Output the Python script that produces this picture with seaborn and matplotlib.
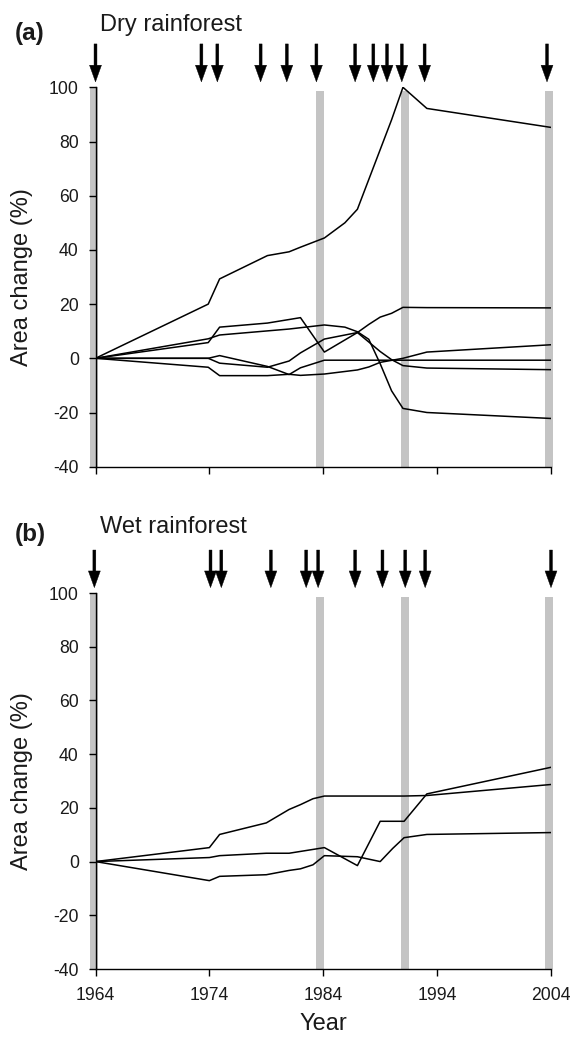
import matplotlib
matplotlib.use("Agg")
import matplotlib.pyplot as plt
import seaborn as sns
import pandas as pd

# ---------------- data ----------------
# (a) Dry rainforest: six patches, area change (%) vs year
dry_1_years = [1964, 1973.9, 1974.9, 1979.1, 1981.0, 1982.0, 1984.1, 1985.9, 1987.0, 1988.0, 1989.0, 1990.0, 1991.0, 1993.1, 2004.0]
dry_1_change = [0, 20, 29.3, 37.9, 39.3, 41.0, 44.4, 50, 55, 66, 77, 88, 100, 92.2, 85.2]
dry_2_years = [1964, 1973.9, 1974.9, 1979.1, 1982.0, 1984.1, 1987.0, 1988.0, 1989.0, 1990.0, 1991.0, 1993.1, 2004.0]
dry_2_change = [0, 5.8, 11.5, 13.0, 15.0, 2.3, 9.5, 12.5, 15.2, 16.6, 18.8, 18.7, 18.6]
dry_3_years = [1964, 1973.9, 1974.9, 1981.0, 1984.1, 1985.9, 1987.0, 1988.0, 1989.0, 1990.0, 1991.0, 1993.1, 2004.0]
dry_3_change = [0, 7.2, 8.6, 10.8, 12.3, 11.5, 9.8, 7.0, -2.0, -12.0, -18.5, -20.0, -22.2]
dry_4_years = [1964, 1973.9, 1974.9, 1979.1, 1981.0, 1982.0, 1984.1, 1987.0, 1988.0, 1989.0, 1990.0, 1991.0, 1993.1, 2004.0]
dry_4_change = [0, 0, -1.8, -3.3, -1.0, 2.0, 7.1, 9.5, 6.0, 2.5, -0.5, -2.7, -3.6, -4.2]
dry_5_years = [1964, 1973.9, 1974.9, 1979.1, 1981.0, 1982.0, 1984.1, 1991.0, 2004.0]
dry_5_change = [0, 0, 1.0, -3.0, -6.0, -3.5, -0.7, -0.7, -0.7]
dry_6_years = [1964, 1973.9, 1974.9, 1979.1, 1981.0, 1982.0, 1984.1, 1987.0, 1988.0, 1989.0, 1991.0, 1993.1, 2004.0]
dry_6_change = [0, -3.3, -6.4, -6.4, -5.9, -6.3, -5.8, -4.3, -3.2, -1.5, 0, 2.3, 5.0]

# (b) Wet rainforest: three patches
wet_1_years = [1964, 1974.0, 1974.9, 1979.0, 1981.0, 1982.0, 1983.1, 1984.1, 1991.1, 1993.1, 2004.0]
wet_1_change = [0, 5.2, 10.1, 14.4, 19.4, 21.2, 23.4, 24.4, 24.4, 24.6, 28.7]
wet_2_years = [1964, 1974.0, 1974.9, 1979.0, 1981.0, 1984.1, 1987.0, 1989.0, 1991.1, 1993.1, 2004.0]
wet_2_change = [0, 1.5, 2.2, 3.1, 3.1, 5.2, -1.5, 15.0, 15.0, 25.2, 35.1]
wet_3_years = [1964, 1974.0, 1974.9, 1979.0, 1981.0, 1982.0, 1983.1, 1984.1, 1987.0, 1989.0, 1990.1, 1991.1, 1993.1, 2004.0]
wet_3_change = [0, -7.1, -5.5, -4.9, -3.3, -2.7, -1.2, 2.2, 1.8, 0, 4.9, 8.9, 10.1, 10.8]

# photo years (arrows) and grey reference bars
dry_photo_years = [1964.0, 1973.3, 1974.7, 1978.5, 1980.8, 1983.4, 1986.8, 1988.4, 1989.6, 1990.9, 1992.9, 2003.65]
wet_photo_years = [1963.9, 1974.1, 1975.05, 1979.4, 1982.5, 1983.55, 1986.8, 1989.2, 1991.2, 1992.95, 2004.0]
bar_years = [1963.85, 1983.7, 1991.15, 2003.85]

x_ticks = [1964, 1974, 1984, 1994, 2004]
y_ticks = [-40, -20, 0, 20, 40, 60, 80, 100]

panel_letters = ["(a)", "(b)"]
panel_titles = ["Dry rainforest", "Wet rainforest"]


def long_df(series):
    rows = []
    for name, (yrs, vals) in series.items():
        for y, v in zip(yrs, vals):
            rows.append({"series": name, "year": y, "change": v})
    return pd.DataFrame(rows)


dry_df = long_df({
    "d1": (dry_1_years, dry_1_change), "d2": (dry_2_years, dry_2_change),
    "d3": (dry_3_years, dry_3_change), "d4": (dry_4_years, dry_4_change),
    "d5": (dry_5_years, dry_5_change), "d6": (dry_6_years, dry_6_change),
})
wet_df = long_df({
    "w1": (wet_1_years, wet_1_change), "w2": (wet_2_years, wet_2_change),
    "w3": (wet_3_years, wet_3_change),
})

# ---------------- style ----------------
sns.set_theme(style="ticks")
plt.rcParams["font.family"] = ["Liberation Sans", "DejaVu Sans"]
plt.rcParams["axes.unicode_minus"] = False

W, H = 580, 1041
fig = plt.figure(figsize=(W / 100, H / 100), dpi=100)

left_px, right_px = 95.5, 551
text_col = "#1a1a1a"
panels = [
    dict(df=dry_df, top=87.3, bottom=466.7, photos=dry_photo_years,
         title_base=31, letter_base=40, xlabels=False),
    dict(df=wet_df, top=593, bottom=969, photos=wet_photo_years,
         title_base=533, letter_base=541, xlabels=True),
]

for i, p in enumerate(panels):
    ax = fig.add_axes([left_px / W, 1 - p["bottom"] / H,
                       (right_px - left_px) / W, (p["bottom"] - p["top"]) / H])
    ax.set_xlim(1964, 2004)
    ax.set_ylim(-40, 100)

    # grey reference bars
    for k, by in enumerate(bar_years):
        top_val = 100 if k == 0 else 98.6
        r = ax.axvspan(by - 0.34, by + 0.34, ymin=0, ymax=(top_val + 40) / 140,
                       color="#c4c4c4", lw=0, zorder=0)
        r.set_clip_on(False)

    # lines
    sns.lineplot(data=p["df"], x="year", y="change", units="series",
                 estimator=None, sort=False, color="black", lw=1.1,
                 legend=False, ax=ax, zorder=3)

    # arrows for photo years
    for yr in p["photos"]:
        ax.annotate("", xy=(yr, 102.0), xytext=(yr, 116.0),
                    arrowprops=dict(facecolor="black", edgecolor="black",
                                    width=2.1, headwidth=8.6, headlength=12,
                                    shrink=0, lw=0.3),
                    annotation_clip=False)

    sns.despine(ax=ax)
    for s in ["left", "bottom"]:
        ax.spines[s].set_linewidth(1.0)
        ax.spines[s].set_color("black")
        ax.spines[s].set_zorder(4)
    ax.set_xticks(x_ticks)
    ax.set_yticks(y_ticks)
    ax.tick_params(axis="both", direction="out", length=5, width=1.0,
                   colors="black", labelcolor=text_col, labelsize=12.7)
    ax.tick_params(axis="y", pad=7)
    ax.tick_params(axis="x", pad=8)
    if not p["xlabels"]:
        ax.set_xticklabels([])
        ax.set_xlabel("")
    else:
        ax.set_xlabel("Year", fontsize=17, color=text_col)
        ax.xaxis.set_label_coords(0.5, -0.118)
    ax.set_ylabel("Area change (%)", fontsize=17, color=text_col)
    ax.yaxis.set_label_coords(-0.137, 0.5)

    fig.text(15 / W, 1 - p["letter_base"] / H, panel_letters[i],
             fontsize=17.5, fontweight="bold", va="baseline", ha="left",
             color=text_col)
    fig.text(100 / W, 1 - p["title_base"] / H, panel_titles[i],
             fontsize=17, va="baseline", ha="left", color=text_col)

fig.savefig("out.png", dpi=100)
